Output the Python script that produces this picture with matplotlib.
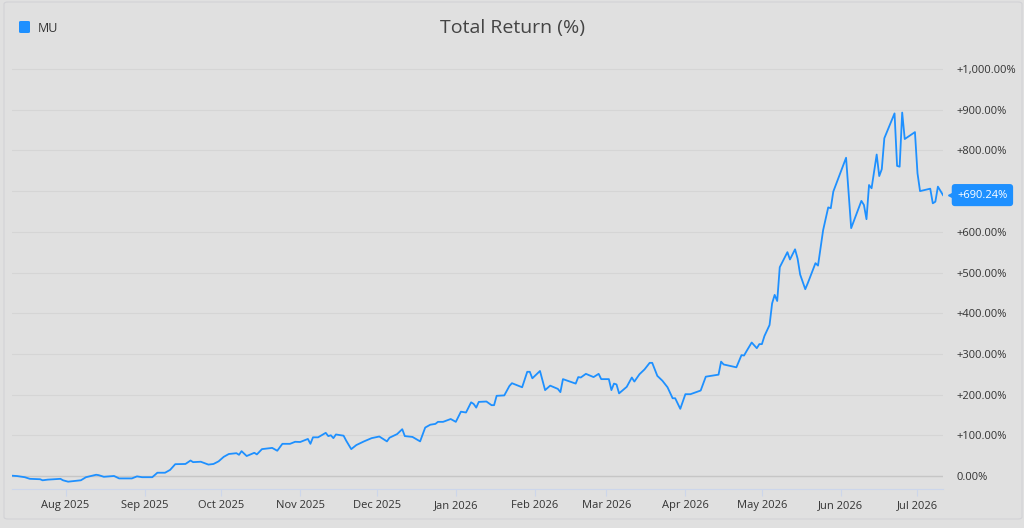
import matplotlib
matplotlib.use("Agg")
import matplotlib.pyplot as plt
import matplotlib.dates as mdates
from matplotlib.patches import FancyBboxPatch
from matplotlib.ticker import FuncFormatter, MultipleLocator
import pandas as pd

plt.rcParams['font.family'] = ['Open Sans', 'DejaVu Sans']

# data
dates = [
    "2025-07-11", "2025-07-13", "2025-07-16", "2025-07-18", "2025-07-22", "2025-07-23",
    "2025-07-25", "2025-07-30", "2025-07-31", "2025-08-02", "2025-08-07", "2025-08-09",
    "2025-08-13", "2025-08-14", "2025-08-16", "2025-08-20", "2025-08-22", "2025-08-27",
    "2025-08-29", "2025-08-31", "2025-09-04", "2025-09-06", "2025-09-09", "2025-09-11",
    "2025-09-13", "2025-09-17", "2025-09-19", "2025-09-20", "2025-09-23", "2025-09-26",
    "2025-09-28", "2025-09-30", "2025-10-02", "2025-10-04", "2025-10-07", "2025-10-08",
    "2025-10-09", "2025-10-11", "2025-10-14", "2025-10-15", "2025-10-17", "2025-10-21",
    "2025-10-23", "2025-10-25", "2025-10-28", "2025-10-30", "2025-11-01", "2025-11-04",
    "2025-11-05", "2025-11-06", "2025-11-08", "2025-11-11", "2025-11-12", "2025-11-13",
    "2025-11-14", "2025-11-15", "2025-11-18", "2025-11-19", "2025-11-21", "2025-11-23",
    "2025-11-26", "2025-11-29", "2025-12-02", "2025-12-03", "2025-12-05", "2025-12-06",
    "2025-12-09", "2025-12-11", "2025-12-12", "2025-12-15", "2025-12-18", "2025-12-20",
    "2025-12-22", "2025-12-24", "2025-12-25", "2025-12-27", "2025-12-30", "2026-01-01",
    "2026-01-03", "2026-01-05", "2026-01-07", "2026-01-08", "2026-01-09", "2026-01-10",
    "2026-01-13", "2026-01-15", "2026-01-16", "2026-01-17", "2026-01-20", "2026-01-22",
    "2026-01-23", "2026-01-27", "2026-01-29", "2026-01-30", "2026-01-31", "2026-02-03",
    "2026-02-05", "2026-02-07", "2026-02-10", "2026-02-11", "2026-02-12", "2026-02-17",
    "2026-02-18", "2026-02-19", "2026-02-21", "2026-02-24", "2026-02-26", "2026-02-27",
    "2026-03-02", "2026-03-03", "2026-03-04", "2026-03-05", "2026-03-06", "2026-03-09",
    "2026-03-11", "2026-03-12", "2026-03-14", "2026-03-16", "2026-03-18", "2026-03-19",
    "2026-03-21", "2026-03-23", "2026-03-25", "2026-03-27", "2026-03-28", "2026-03-30",
    "2026-04-01", "2026-04-03", "2026-04-07", "2026-04-09", "2026-04-14", "2026-04-15",
    "2026-04-16", "2026-04-21", "2026-04-23", "2026-04-24", "2026-04-25", "2026-04-27",
    "2026-04-29", "2026-04-30", "2026-05-01", "2026-05-02", "2026-05-04", "2026-05-05",
    "2026-05-06", "2026-05-07", "2026-05-08", "2026-05-11", "2026-05-12", "2026-05-14",
    "2026-05-15", "2026-05-16", "2026-05-18", "2026-05-19", "2026-05-22", "2026-05-23",
    "2026-05-25", "2026-05-27", "2026-05-28", "2026-05-29", "2026-06-01", "2026-06-03",
    "2026-06-05", "2026-06-09", "2026-06-10", "2026-06-11", "2026-06-12", "2026-06-13",
    "2026-06-15", "2026-06-16", "2026-06-17", "2026-06-18", "2026-06-22", "2026-06-23",
    "2026-06-24", "2026-06-25", "2026-06-26", "2026-06-30", "2026-07-01", "2026-07-02",
    "2026-07-06", "2026-07-07", "2026-07-08", "2026-07-09", "2026-07-11",
]
mu_return = [
    0.7, -0.2, -3, -7, -8, -10.6,
    -9, -7, -10.6, -14, -10.6, -3,
    3, 2, -2, 0, -6, -6,
    -1, -3, -3, 8, 8, 15,
    29, 29.5, 38, 34, 35, 28,
    29.5, 36, 47, 54, 56, 52,
    61, 49, 57, 53, 66, 69,
    62, 79, 79, 84, 83.5, 91,
    79, 95, 95, 106, 98, 100,
    93, 102, 99, 87, 66, 76,
    85, 93, 97, 93, 85, 94,
    103, 115, 98, 96, 85, 119,
    126, 128, 133, 133, 140, 133,
    158, 156, 181, 177, 168, 182,
    183, 174, 174, 197, 198, 221,
    228, 218, 256, 256, 240, 258,
    211, 222, 214, 206, 238, 227,
    243, 242, 251, 243, 251, 238,
    238, 211, 227, 225, 203, 219,
    242, 232, 250, 262, 278, 278,
    246, 234, 218, 191, 191, 165,
    201, 201, 210, 244, 249, 281,
    274, 267, 297, 296, 307, 328,
    314, 324, 324, 344, 371, 424,
    445, 430, 513, 550, 532, 557,
    534, 495, 459, 474, 523, 517,
    604, 660, 658, 699, 749, 782,
    609, 676, 666, 631, 715, 707,
    790, 737, 754, 830, 891, 762,
    760, 893, 828, 845, 744, 700,
    706, 670, 674, 711, 690.24,
]
ticker = "MU"

x = pd.to_datetime(dates)
bg = '#e0e0e0'
blue = '#1e90ff'
txt = '#333333'
last = mu_return[-1]


def fmt_pct(v, p):
    # the flag covers the tick label next to it
    if abs(v - last) < 40:
        return ""
    if v == 0:
        return "0.00%"
    return "{:+,.2f}%".format(v)


fig = plt.figure(figsize=(10.24, 5.28), dpi=100, facecolor=bg)

# card outline
fig.patches.append(FancyBboxPatch((4 / 1024, 9 / 528), 1018 / 1024, 517 / 528,
                                  boxstyle='round,pad=0,rounding_size=0.004',
                                  transform=fig.transFigure, facecolor='none',
                                  edgecolor='#d2d2d6', linewidth=0.8))

ax = fig.add_axes([12 / 1024, 39 / 528, 931 / 1024, 422 / 528])
ax.set_facecolor(bg)
ax.plot(x, mu_return, color=blue, linewidth=1.3, zorder=3)

ax.set_xlim(pd.Timestamp("2025-07-11"), pd.Timestamp("2026-07-11"))
ax.set_ylim(-32, 1005)

ax.yaxis.tick_right()
ax.yaxis.set_major_locator(MultipleLocator(100))
ax.yaxis.set_major_formatter(FuncFormatter(fmt_pct))
ax.tick_params(axis='y', length=0, pad=9.5, labelsize=8, labelcolor=txt)
ax.grid(axis='y', color='#d5d5d5', linewidth=0.8)
ax.axhline(0, color='#c6c6c6', linewidth=1.0, zorder=2)

ax.xaxis.set_major_locator(mdates.MonthLocator(bymonthday=1))
ax.xaxis.set_major_formatter(mdates.DateFormatter('%b %Y'))
ax.tick_params(axis='x', length=5, width=0.8, color='#ccd6eb', pad=3,
               labelsize=8, labelcolor=txt)

for s in ['top', 'left', 'right']:
    ax.spines[s].set_visible(False)
ax.spines['bottom'].set_color('#ccd6eb')
ax.spines['bottom'].set_linewidth(0.8)

# last value flag
ax.plot([1.0 + 10 / 931], [last], marker='<', markersize=7.5, color=blue,
        transform=ax.get_yaxis_transform(), clip_on=False, zorder=4)
ax.annotate("{:+.2f}%".format(last), xy=(1.0, last),
            xycoords=('axes fraction', 'data'),
            xytext=(10.3, 0), textcoords='offset points',
            ha='left', va='center', fontsize=8, color='white', zorder=5,
            bbox=dict(boxstyle='round,pad=0.5,rounding_size=0.3',
                      facecolor=blue, edgecolor='none'))

# title and legend
fig.text(0.5, 1 - 28 / 528, "Total Return (%)", ha='center', va='center',
         fontsize=14, color='#444444')
fig.patches.append(FancyBboxPatch((19 / 1024, 1 - 33 / 528), 11 / 1024, 12 / 528,
                                  boxstyle='round,pad=0,rounding_size=0.002',
                                  transform=fig.transFigure, facecolor=blue,
                                  edgecolor='none'))
fig.text(38 / 1024, 1 - 28 / 528, ticker, ha='left', va='center',
         fontsize=9, color=txt)

fig.savefig('out.png', dpi=100, facecolor=bg)
